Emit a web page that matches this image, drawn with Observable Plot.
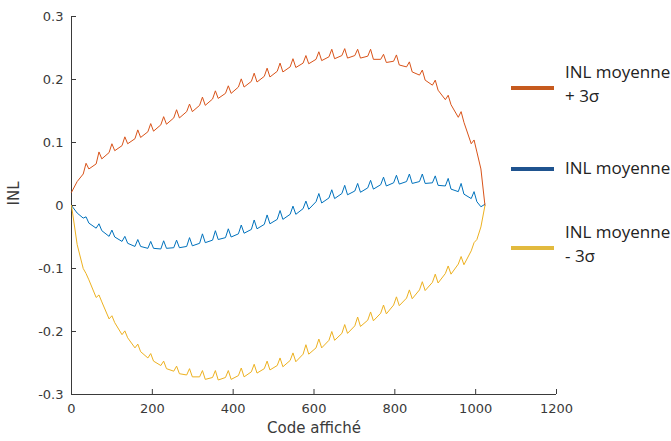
<!DOCTYPE html>
<html><head><meta charset="utf-8">
<script src="https://cdn.jsdelivr.net/npm/d3@7"></script>
<script src="https://cdn.jsdelivr.net/npm/@observablehq/plot@0.6"></script>
<style>
body{margin:0;background:#fff;}
#wrap{position:relative;width:671px;height:441px;overflow:hidden;background:#fff;}
.lg{position:absolute;font-family:"Open Sans",sans-serif;font-size:17px;color:#222;line-height:24px;white-space:nowrap;}
.sw{position:absolute;height:4px;width:43px;}
</style></head><body><div id="wrap"></div>
<script>
// sample codes (x): each ripple's cusp, the low just after it, and the base just before the next cusp
const codes = [0, 14, 29, 36, 43, 61, 68, 75, 93, 100, 107, 125, 132, 139, 157, 164, 171, 189, 196, 203, 221, 228, 235, 253, 260, 267, 285, 292, 299, 317, 324, 331, 349, 356, 363, 381, 388, 395, 413, 420, 427, 445, 452, 459, 477, 484, 491, 509, 516, 523, 541, 548, 555, 573, 580, 587, 605, 612, 619, 637, 644, 651, 669, 676, 683, 701, 708, 715, 733, 740, 747, 765, 772, 779, 797, 804, 811, 829, 836, 843, 861, 868, 875, 893, 900, 907, 925, 932, 939, 957, 964, 971, 989, 996, 1003, 1013, 1023];
// INL moyenne + 3σ
const inlPlus = [0.021, 0.038, 0.050, 0.067, 0.058, 0.066, 0.085, 0.074, 0.084, 0.098, 0.087, 0.095, 0.109, 0.098, 0.106, 0.120, 0.108, 0.117, 0.130, 0.118, 0.128, 0.141, 0.129, 0.139, 0.152, 0.139, 0.149, 0.161, 0.149, 0.159, 0.172, 0.159, 0.169, 0.182, 0.170, 0.178, 0.190, 0.178, 0.188, 0.201, 0.188, 0.197, 0.210, 0.196, 0.205, 0.218, 0.204, 0.213, 0.226, 0.212, 0.220, 0.233, 0.219, 0.226, 0.238, 0.225, 0.232, 0.244, 0.230, 0.236, 0.248, 0.233, 0.238, 0.249, 0.234, 0.238, 0.248, 0.234, 0.237, 0.248, 0.232, 0.232, 0.240, 0.227, 0.229, 0.239, 0.223, 0.220, 0.228, 0.212, 0.207, 0.215, 0.199, 0.191, 0.199, 0.183, 0.168, 0.175, 0.160, 0.140, 0.149, 0.132, 0.098, 0.104, 0.085, 0.058, 0.0];
// INL moyenne
const inlMean = [0.0, -0.012, -0.020, -0.018, -0.028, -0.036, -0.029, -0.040, -0.049, -0.039, -0.050, -0.057, -0.049, -0.060, -0.065, -0.054, -0.065, -0.068, -0.057, -0.068, -0.069, -0.056, -0.068, -0.067, -0.055, -0.067, -0.065, -0.051, -0.064, -0.060, -0.045, -0.059, -0.055, -0.040, -0.054, -0.051, -0.037, -0.050, -0.045, -0.031, -0.044, -0.038, -0.023, -0.037, -0.030, -0.015, -0.029, -0.022, -0.008, -0.022, -0.014, -0.001, -0.014, -0.005, 0.007, -0.006, 0.006, 0.019, 0.004, 0.012, 0.025, 0.011, 0.019, 0.032, 0.017, 0.023, 0.035, 0.021, 0.028, 0.040, 0.026, 0.033, 0.045, 0.031, 0.036, 0.048, 0.034, 0.038, 0.050, 0.035, 0.038, 0.050, 0.035, 0.036, 0.047, 0.032, 0.031, 0.043, 0.026, 0.022, 0.035, 0.018, 0.011, 0.022, 0.006, -0.002, 0.002];
// INL moyenne - 3σ
const inlMinus = [0.0, -0.062, -0.100, -0.108, -0.118, -0.146, -0.142, -0.153, -0.180, -0.175, -0.186, -0.205, -0.199, -0.210, -0.226, -0.220, -0.232, -0.242, -0.235, -0.247, -0.254, -0.247, -0.259, -0.263, -0.255, -0.267, -0.269, -0.259, -0.272, -0.272, -0.262, -0.276, -0.273, -0.262, -0.277, -0.273, -0.262, -0.276, -0.270, -0.258, -0.272, -0.264, -0.252, -0.266, -0.259, -0.247, -0.261, -0.254, -0.242, -0.256, -0.246, -0.234, -0.248, -0.236, -0.221, -0.236, -0.226, -0.212, -0.226, -0.214, -0.200, -0.214, -0.203, -0.189, -0.203, -0.191, -0.177, -0.192, -0.182, -0.169, -0.183, -0.171, -0.158, -0.172, -0.158, -0.145, -0.159, -0.147, -0.134, -0.148, -0.134, -0.121, -0.135, -0.122, -0.109, -0.123, -0.108, -0.096, -0.109, -0.093, -0.081, -0.094, -0.072, -0.059, -0.054, -0.034, 0.0];

const xTicks = [0, 200, 400, 600, 800, 1000, 1200];
const yTicks = [-0.3, -0.2, -0.1, 0, 0.1, 0.2, 0.3];
const xDomain = [0, 1200];
const yDomain = [-0.3, 0.3];
const seriesNames = ["INL moyenne", "INL moyenne + 3σ", "INL moyenne - 3σ"];
const seriesColors = ["#0072BD", "#D95319", "#EDB120"];
const legendLabels = [["INL moyenne", "+ 3σ"], ["INL moyenne"], ["INL moyenne", "- 3σ"]];
const legendColors = ["#C65A1E", "#1F538F", "#E2BA3E"];

const rows = [];
[inlMean, inlPlus, inlMinus].forEach((vals, s) =>
  vals.forEach((v, i) => rows.push({code: codes[i], inl: v, series: seriesNames[s]})));

const W = 671, H = 441, mL = 71, mR = 115, mT = 16, mB = 47;
const fw = W - mL - mR, fh = H - mT - mB;
const axisColor = "#3a3a3a";

const chart = Plot.plot({
  width: W, height: H,
  marginLeft: mL, marginRight: mR, marginTop: mT, marginBottom: mB,
  style: {fontFamily: "'DejaVu Sans', sans-serif", fontSize: "13px", color: axisColor, background: "#fff"},
  x: {domain: xDomain},
  y: {domain: yDomain},
  color: {domain: seriesNames, range: seriesColors},
  marks: [
    Plot.axisX({ticks: xTicks, tickSize: 0, tickPadding: 9, label: null, fontSize: 13, tickFormat: d => String(d)}),
    Plot.axisY({ticks: yTicks, tickSize: 0, tickPadding: 8, label: null, fontSize: 13, tickFormat: d => d === 0 ? "0" : (d < 0 ? "-" : "") + Math.abs(d).toFixed(1)}),
    Plot.tickX(xTicks, {x: d => d, insetTop: fh - 5, stroke: axisColor}),
    Plot.tickY(yTicks, {y: d => d, insetRight: fw - 5, stroke: axisColor}),
    Plot.ruleX([xDomain[0]], {stroke: axisColor}),
    Plot.ruleY([yDomain[0]], {stroke: axisColor}),
    Plot.line(rows, {x: "code", y: "inl", z: "series", stroke: "series", strokeWidth: 1}),
    Plot.text(["Code affiché"], {frameAnchor: "bottom", dy: 38, fontSize: 15, fill: axisColor}),
    Plot.text(["INL"], {frameAnchor: "left", dx: -57, rotate: -90, fontSize: 15, fill: axisColor})
  ]
});

const wrap = document.getElementById("wrap");
wrap.appendChild(chart);

const swTops = [86, 167, 246];
const textTops = [60, 156, 220];
legendLabels.forEach((lines, i) => {
  const sw = document.createElement("div");
  sw.className = "sw";
  sw.style.left = "511px";
  sw.style.top = swTops[i] + "px";
  sw.style.background = legendColors[i];
  wrap.appendChild(sw);
  const t = document.createElement("div");
  t.className = "lg";
  t.style.left = "565px";
  t.style.top = textTops[i] + "px";
  t.innerHTML = lines.join("<br>");
  wrap.appendChild(t);
});
</script>
</body></html>
